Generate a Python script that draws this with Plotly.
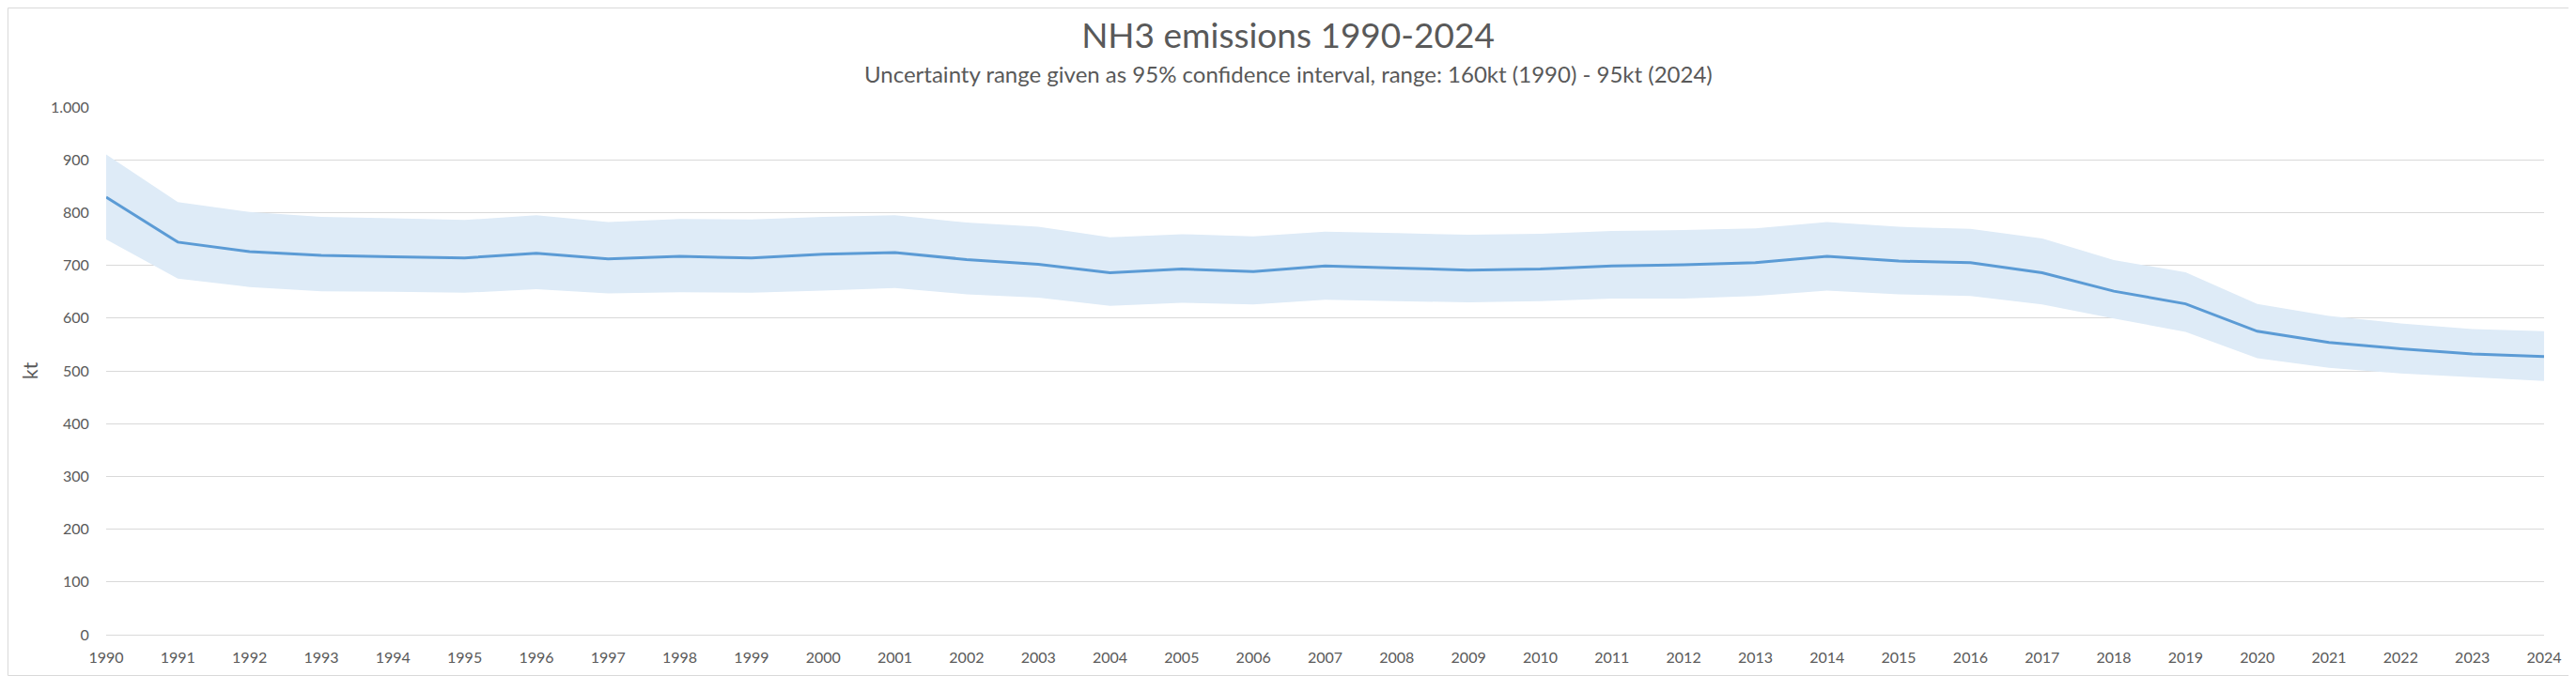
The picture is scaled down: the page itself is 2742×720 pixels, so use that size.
import plotly.graph_objects as go

years = list(range(1990, 2025))
emissions = [829, 744, 726, 719, 716, 714, 723, 712, 717, 714,
             721, 724, 711, 702, 686, 693, 688, 699, 695, 691,
             693, 699, 701, 705, 717, 708, 705, 686, 651, 627,
             575, 554, 542, 532, 527]
upper = [910, 820, 801, 792, 789, 786, 795, 782, 788, 787,
         792, 795, 781, 773, 753, 759, 755, 764, 761, 758,
         760, 765, 767, 770, 782, 773, 769, 751, 710, 687,
         627, 604, 590, 579, 575]
lower = [749, 675, 659, 651, 650, 648, 655, 647, 649, 648,
         652, 657, 645, 639, 623, 629, 626, 635, 632, 630,
         632, 637, 637, 642, 652, 645, 642, 626, 599, 574,
         524, 506, 495, 488, 481]
y_ticks = [0, 100, 200, 300, 400, 500, 600, 700, 800, 900, 1000]
y_ticktext = ["0", "100", "200", "300", "400", "500", "600", "700", "800", "900", "1.000"]

title_text = "NH3 emissions 1990-2024"
subtitle_text = "Uncertainty range given as 95% confidence interval, range: 160kt (1990) - 95kt (2024)"
y_title = "kt"

OFF = 8  # page body margin
W, H = 2742 - OFF, 720 - OFF
L, R, T, B = 113 - OFF, 34, 114 - OFF, 44
pw = W - L - R
ph = H - T - B
y0_page = 676  # page y of value 0

FONT = "Lato"
GREY = "#595959"

fig = go.Figure()
fig.add_trace(go.Scatter(x=years, y=upper, mode="lines", line=dict(width=0, color="rgba(0,0,0,0)"),
                         showlegend=False, hoverinfo="skip"))
fig.add_trace(go.Scatter(x=years, y=lower, mode="lines", line=dict(width=0, color="rgba(0,0,0,0)"),
                         fill="tonexty", fillcolor="rgb(222,235,247)", showlegend=False, hoverinfo="skip"))
fig.add_trace(go.Scatter(x=years, y=emissions, mode="lines", line=dict(width=3, color="#5b9bd5"),
                         showlegend=False))

fig.update_layout(
    width=W, height=H,
    margin=dict(l=L, r=R, t=T, b=B, pad=0),
    paper_bgcolor="white", plot_bgcolor="white",
    font=dict(family=FONT, color=GREY, size=16),
    title=dict(text=title_text, x=(1371 - OFF) / W, xanchor="center", xref="container",
               y=1 - (38 - OFF) / H, yanchor="middle", yref="container",
               font=dict(family=FONT, size=37, color=GREY)),
    xaxis=dict(range=[1990, 2024], tickmode="array", tickvals=years,
               showgrid=False, zeroline=False, showline=False,
               ticks="outside", ticklen=10, tickcolor="rgba(0,0,0,0)",
               tickfont=dict(family=FONT, size=16, color=GREY), fixedrange=True),
    yaxis=dict(range=[0, 1000], tickmode="array", tickvals=y_ticks, ticktext=y_ticktext,
               showgrid=True, gridcolor="#d9d9d9", gridwidth=1,
               zeroline=True, zerolinecolor="#d9d9d9", zerolinewidth=1, showline=False,
               ticks="outside", ticklen=14, tickcolor="rgba(0,0,0,0)",
               tickfont=dict(family=FONT, size=16, color=GREY), fixedrange=True),
    annotations=[
        dict(text=subtitle_text, xref="paper", yref="paper", x=(1371 - 113) / pw,
             y=(y0_page - 78) / ph, xanchor="center", yanchor="middle", showarrow=False,
             font=dict(family=FONT, size=24, color=GREY)),
        dict(text=y_title, xref="paper", yref="paper", x=(31 - 113) / pw, y=0.5,
             xanchor="center", yanchor="middle", textangle=-90, showarrow=False,
             font=dict(family=FONT, size=21, color=GREY)),
    ],
    shapes=[
        dict(type="rect", xref="paper", yref="paper",
             x0=(OFF + 0.5 - 113) / pw, x1=(2742 - 0.5 - 113) / pw,
             y0=(y0_page - (720 - 0.5)) / ph, y1=(y0_page - OFF - 0.5) / ph,
             line=dict(color="#d9d9d9", width=1), fillcolor="rgba(0,0,0,0)", layer="below"),
    ],
)

fig.write_html("out.html")
